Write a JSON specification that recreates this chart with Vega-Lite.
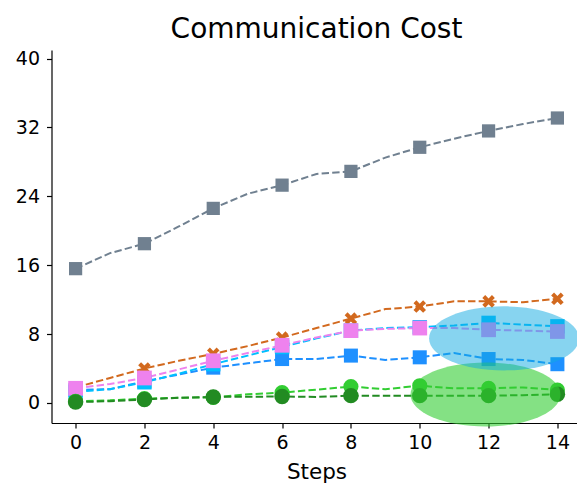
{
  "$schema": "https://vega.github.io/schema/vega-lite/v6.json",
  "autosize": {"type": "none"},
  "padding": {"left": 51.5, "top": 50, "right": 0, "bottom": 68},
  "width": 530,
  "height": 373,
  "background": "white",
  "title": {"text": "Communication Cost", "font": "DejaVu Sans", "fontSize": 28, "fontWeight": "normal", "color": "black", "anchor": "middle", "offset": 6},
  "config": {
    "view": {"stroke": null},
    "axis": {"grid": false, "domainColor": "black", "domainWidth": 1.2, "tickColor": "black", "tickWidth": 1.2, "tickSize": 5, "labelFont": "DejaVu Sans", "labelFontSize": 19, "labelColor": "black", "titleFont": "DejaVu Sans", "titleFontSize": 21.5, "titleFontWeight": "normal", "titleColor": "black"}
  },
  "datasets": {
    "series": [
      {"s": "gray", "step": 0, "v": 15.6}, {"s": "gray", "step": 1, "v": 17.4}, {"s": "gray", "step": 2, "v": 18.5}, {"s": "gray", "step": 3, "v": 20.5}, {"s": "gray", "step": 4, "v": 22.6}, {"s": "gray", "step": 5, "v": 24.3}, {"s": "gray", "step": 6, "v": 25.3}, {"s": "gray", "step": 7, "v": 26.6}, {"s": "gray", "step": 8, "v": 26.9}, {"s": "gray", "step": 9, "v": 28.5}, {"s": "gray", "step": 10, "v": 29.7}, {"s": "gray", "step": 11, "v": 30.7}, {"s": "gray", "step": 12, "v": 31.6}, {"s": "gray", "step": 13, "v": 32.4}, {"s": "gray", "step": 14, "v": 33.1},
      {"s": "orange", "step": 0, "v": 1.8}, {"s": "orange", "step": 1, "v": 2.9}, {"s": "orange", "step": 2, "v": 4.0}, {"s": "orange", "step": 3, "v": 4.9}, {"s": "orange", "step": 4, "v": 5.7}, {"s": "orange", "step": 5, "v": 6.6}, {"s": "orange", "step": 6, "v": 7.6}, {"s": "orange", "step": 7, "v": 8.7}, {"s": "orange", "step": 8, "v": 9.8}, {"s": "orange", "step": 9, "v": 10.9}, {"s": "orange", "step": 10, "v": 11.2}, {"s": "orange", "step": 11, "v": 11.8}, {"s": "orange", "step": 12, "v": 11.8}, {"s": "orange", "step": 13, "v": 11.7}, {"s": "orange", "step": 14, "v": 12.1},
      {"s": "blue", "step": 0, "v": 1.5}, {"s": "blue", "step": 1, "v": 1.6}, {"s": "blue", "step": 2, "v": 2.5}, {"s": "blue", "step": 3, "v": 3.3}, {"s": "blue", "step": 4, "v": 4.1}, {"s": "blue", "step": 5, "v": 4.6}, {"s": "blue", "step": 6, "v": 5.1}, {"s": "blue", "step": 7, "v": 5.1}, {"s": "blue", "step": 8, "v": 5.5}, {"s": "blue", "step": 9, "v": 5.0}, {"s": "blue", "step": 10, "v": 5.3}, {"s": "blue", "step": 11, "v": 5.8}, {"s": "blue", "step": 12, "v": 5.1}, {"s": "blue", "step": 13, "v": 5.0}, {"s": "blue", "step": 14, "v": 4.5},
      {"s": "cyan", "step": 0, "v": 1.3}, {"s": "cyan", "step": 1, "v": 1.6}, {"s": "cyan", "step": 2, "v": 2.4}, {"s": "cyan", "step": 3, "v": 3.4}, {"s": "cyan", "step": 4, "v": 4.5}, {"s": "cyan", "step": 5, "v": 5.5}, {"s": "cyan", "step": 6, "v": 6.5}, {"s": "cyan", "step": 7, "v": 7.5}, {"s": "cyan", "step": 8, "v": 8.4}, {"s": "cyan", "step": 9, "v": 8.7}, {"s": "cyan", "step": 10, "v": 8.8}, {"s": "cyan", "step": 11, "v": 9.0}, {"s": "cyan", "step": 12, "v": 9.3}, {"s": "cyan", "step": 13, "v": 9.1}, {"s": "cyan", "step": 14, "v": 8.9},
      {"s": "pink", "step": 0, "v": 1.7}, {"s": "pink", "step": 1, "v": 2.2}, {"s": "pink", "step": 2, "v": 2.9}, {"s": "pink", "step": 3, "v": 3.9}, {"s": "pink", "step": 4, "v": 4.9}, {"s": "pink", "step": 5, "v": 5.8}, {"s": "pink", "step": 6, "v": 6.7}, {"s": "pink", "step": 7, "v": 7.6}, {"s": "pink", "step": 8, "v": 8.4}, {"s": "pink", "step": 9, "v": 8.6}, {"s": "pink", "step": 10, "v": 8.7}, {"s": "pink", "step": 11, "v": 8.7}, {"s": "pink", "step": 12, "v": 8.5}, {"s": "pink", "step": 13, "v": 8.4}, {"s": "pink", "step": 14, "v": 8.3},
      {"s": "lime", "step": 0, "v": 0.2}, {"s": "lime", "step": 1, "v": 0.3}, {"s": "lime", "step": 2, "v": 0.5}, {"s": "lime", "step": 3, "v": 0.6}, {"s": "lime", "step": 4, "v": 0.65}, {"s": "lime", "step": 5, "v": 1.0}, {"s": "lime", "step": 6, "v": 1.2}, {"s": "lime", "step": 7, "v": 1.55}, {"s": "lime", "step": 8, "v": 1.9}, {"s": "lime", "step": 9, "v": 1.6}, {"s": "lime", "step": 10, "v": 2.0}, {"s": "lime", "step": 11, "v": 1.7}, {"s": "lime", "step": 12, "v": 1.7}, {"s": "lime", "step": 13, "v": 1.8}, {"s": "lime", "step": 14, "v": 1.5},
      {"s": "dgreen", "step": 0, "v": 0.1}, {"s": "dgreen", "step": 1, "v": 0.2}, {"s": "dgreen", "step": 2, "v": 0.4}, {"s": "dgreen", "step": 3, "v": 0.6}, {"s": "dgreen", "step": 4, "v": 0.7}, {"s": "dgreen", "step": 5, "v": 0.72}, {"s": "dgreen", "step": 6, "v": 0.75}, {"s": "dgreen", "step": 7, "v": 0.7}, {"s": "dgreen", "step": 8, "v": 0.85}, {"s": "dgreen", "step": 9, "v": 0.85}, {"s": "dgreen", "step": 10, "v": 0.85}, {"s": "dgreen", "step": 11, "v": 0.85}, {"s": "dgreen", "step": 12, "v": 0.85}, {"s": "dgreen", "step": 13, "v": 0.9}, {"s": "dgreen", "step": 14, "v": 1.0}
    ],
    "ellipses": [
      {"e": "green", "step": 11.91, "v": 0.99},
      {"e": "cyan", "step": 12.45, "v": 7.5}
    ]
  },
  "encoding": {
    "x": {"field": "step", "type": "quantitative", "scale": {"domain": [-0.7, 14.7], "nice": false, "zero": false}, "axis": {"values": [0, 2, 4, 6, 8, 10, 12, 14], "title": "Steps", "labelPadding": 5, "titlePadding": 9, "labelFlush": false}},
    "y": {"field": "v", "type": "quantitative", "scale": {"domain": [-2.33, 41], "nice": false, "zero": false}, "axis": {"values": [0, 8, 16, 24, 32, 40], "title": null, "labelPadding": 7}}
  },
  "layer": [
    {
      "data": {"name": "series"},
      "mark": {"type": "line", "strokeWidth": 2, "strokeDash": [7.4, 3.2]},
      "encoding": {
        "color": {"field": "s", "type": "nominal", "legend": null, "scale": {"domain": ["gray", "orange", "blue", "cyan", "pink", "lime", "dgreen"], "range": ["#708090", "#D2691E", "#1E90FF", "#00BFFF", "#EE82EE", "#32CD32", "#228B22"]}},
        "detail": {"field": "s"}
      }
    },
    {
      "data": {"name": "series"},
      "transform": [{"filter": "datum.step % 2 == 0"}],
      "mark": {"type": "point", "filled": true, "opacity": 1, "strokeWidth": 1},
      "encoding": {
        "color": {"field": "s", "type": "nominal", "legend": null},
        "shape": {"field": "s", "type": "nominal", "legend": null, "scale": {"domain": ["gray", "orange", "blue", "cyan", "pink", "lime", "dgreen"], "range": ["square", "M -0.495 -0.919 L 0 -0.424 L 0.495 -0.919 L 0.919 -0.495 L 0.424 0 L 0.919 0.495 L 0.495 0.919 L 0 0.424 L -0.495 0.919 L -0.919 0.495 L -0.424 0 L -0.919 -0.495 Z", "square", "square", "square", "circle", "circle"]}},
        "size": {"field": "s", "type": "nominal", "legend": null, "scale": {"domain": ["gray", "orange", "blue", "cyan", "pink", "lime", "dgreen"], "range": [175, 240, 175, 175, 175, 175, 175]}}
      }
    },
    {
      "data": {"name": "ellipses"},
      "transform": [{"filter": "datum.e == 'green'"}],
      "mark": {"type": "point", "filled": true, "strokeWidth": 0, "color": "#32CD32", "opacity": 0.6, "size": 22500, "shape": "M -1 0 C -1 -0.236 -0.552 -0.427 0 -0.427 C 0.552 -0.427 1 -0.236 1 0 C 1 0.236 0.552 0.427 0 0.427 C -0.552 0.427 -1 0.236 -1 0 Z"},
      "encoding": {}
    },
    {
      "data": {"name": "ellipses"},
      "transform": [{"filter": "datum.e == 'cyan'"}],
      "mark": {"type": "point", "filled": true, "strokeWidth": 0, "color": "#0FAAE1", "opacity": 0.5, "size": 22500, "shape": "M -1 0 C -1 -0.236 -0.552 -0.427 0 -0.427 C 0.552 -0.427 1 -0.236 1 0 C 1 0.236 0.552 0.427 0 0.427 C -0.552 0.427 -1 0.236 -1 0 Z"},
      "encoding": {}
    }
  ]
}
